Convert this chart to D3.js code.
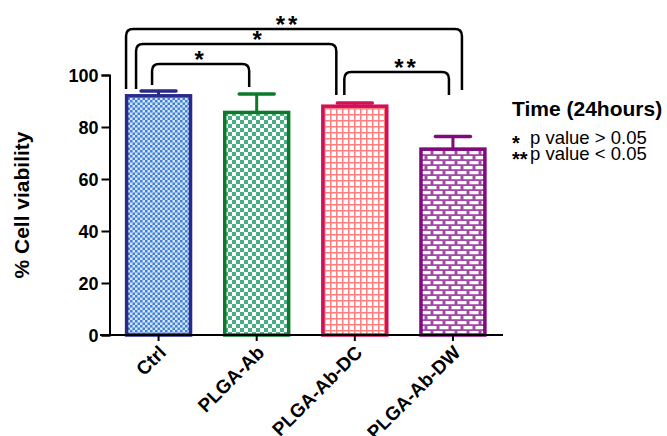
<!DOCTYPE html>
<html>
<head>
<meta charset="utf-8">
<script src="https://cdn.jsdelivr.net/npm/d3@7"></script>
<style>
  body { margin: 0; background: #fff; }
  text { font-family: "Liberation Sans", Arial, sans-serif; }
</style>
</head>
<body>
<svg id="chart" width="667" height="436"></svg>
<script>
// data
var groups = ["Ctrl", "PLGA-Ab", "PLGA-Ab-DC", "PLGA-Ab-DW"];
var viability = [92, 85.6, 88, 71.5];
var errUp = [1.8, 7.1, 1.2, 4.8];
var yTicks = [0, 20, 40, 60, 80, 100];
// significance brackets: from bar, to bar, top level and leg ends (in % units)
var sigFrom = [0, 0, 0, 2];
var sigTo = [1, 2, 3, 3];
var sigTop = [104.2, 111.9, 117.7, 101.2];
var sigLegA = [96.2, 94.6, 94.6, 92.3];
var sigLegB = [95.4, 92.3, 94.2, 92.3];
var sigLabel = ["*", "*", "**", "**"];
var legendTitle = "Time (24hours)";
var legendStars = ["*", "**"];
var legendText = ["p value > 0.05", "p value < 0.05"];

var strokeCols = ["#2a2a8a", "#0b7a2b", "#d0105a", "#7f0a7c"];
var patIds = ["patCtrl", "patAb", "patDC", "patDW"];
// leg x offsets from the bar centres, label offsets
var legDx = [[-6.5, -7.5], [-22.5, -18.5], [-32.5, 9], [-10.5, -4]];
var labDx = [-1.5, 21, -6, 10];

var svg = d3.select("#chart");
var defs = svg.append("defs");

var p1 = defs.append("pattern").attr("id", "patCtrl").attr("patternUnits", "userSpaceOnUse")
	.attr("width", 5).attr("height", 5);
p1.append("rect").attr("width", 5).attr("height", 5).attr("fill", "#d6e4f7");
p1.append("rect").attr("width", 2.5).attr("height", 2.5).attr("fill", "#3f80d8");
p1.append("rect").attr("x", 2.5).attr("y", 2.5).attr("width", 2.5).attr("height", 2.5).attr("fill", "#3f80d8");

var p2 = defs.append("pattern").attr("id", "patAb").attr("patternUnits", "userSpaceOnUse")
	.attr("width", 8).attr("height", 8);
p2.append("rect").attr("width", 8).attr("height", 8).attr("fill", "#fff");
p2.append("rect").attr("width", 4).attr("height", 4).attr("fill", "#4aae84");
p2.append("rect").attr("x", 4).attr("y", 4).attr("width", 4).attr("height", 4).attr("fill", "#4aae84");

var p3 = defs.append("pattern").attr("id", "patDC").attr("patternUnits", "userSpaceOnUse")
	.attr("width", 6).attr("height", 6);
p3.append("rect").attr("width", 6).attr("height", 6).attr("fill", "#fff");
p3.append("rect").attr("width", 1.5).attr("height", 6).attr("fill", "#ff7d7d");
p3.append("rect").attr("width", 6).attr("height", 1.5).attr("fill", "#ff7d7d");

var p4 = defs.append("pattern").attr("id", "patDW").attr("patternUnits", "userSpaceOnUse")
	.attr("width", 12).attr("height", 10);
p4.append("rect").attr("width", 12).attr("height", 10).attr("fill", "#a24aa6");
p4.append("rect").attr("x", 1.5).attr("y", 1).attr("width", 9).attr("height", 3.2).attr("fill", "#fff");
p4.append("rect").attr("x", -4.5).attr("y", 6).attr("width", 9).attr("height", 3.2).attr("fill", "#fff");
p4.append("rect").attr("x", 7.5).attr("y", 6).attr("width", 9).attr("height", 3.2).attr("fill", "#fff");

var x = d3.scaleBand().domain(groups).range([109.5, 502]).paddingInner(0.318).paddingOuter(0.159);
var y = d3.scaleLinear().domain([0, 100]).range([335, 75]);

// y axis
var yAxis = svg.append("g")
	.attr("transform", "translate(109.5,0)")
	.call(d3.axisLeft(y).tickValues(yTicks).tickSize(8).tickSizeOuter(8).tickPadding(3));
yAxis.selectAll("path, line").attr("stroke", "#000").attr("stroke-width", 2);
yAxis.selectAll("text").style("font-size", "18px").style("font-weight", "bold").attr("fill", "#000")
	.attr("dy", "0.36em");

// bars
var data = groups.map(function(g, i) { return {name: g, v: viability[i], e: errUp[i], i: i}; });

svg.selectAll(".err").data(data).enter().append("line")
	.attr("class", "err")
	.attr("x1", d => x(d.name) + x.bandwidth() / 2)
	.attr("x2", d => x(d.name) + x.bandwidth() / 2)
	.attr("y1", d => y(d.v))
	.attr("y2", d => y(d.v + d.e))
	.attr("stroke", d => strokeCols[d.i]).attr("stroke-width", 3);

svg.selectAll(".cap").data(data).enter().append("line")
	.attr("class", "cap")
	.attr("x1", d => x(d.name) + x.bandwidth() / 2 - 17.5)
	.attr("x2", d => x(d.name) + x.bandwidth() / 2 + 17.5)
	.attr("y1", d => y(d.v + d.e))
	.attr("y2", d => y(d.v + d.e))
	.attr("stroke", d => strokeCols[d.i]).attr("stroke-width", 3.5)
	.attr("stroke-linecap", "round");

svg.selectAll(".bar").data(data).enter().append("rect")
	.attr("class", "bar")
	.attr("x", d => x(d.name) + 1.5)
	.attr("y", d => y(d.v))
	.attr("width", x.bandwidth() - 3)
	.attr("height", d => y(0) - y(d.v))
	.attr("fill", d => "url(#" + patIds[d.i] + ")")
	.attr("stroke", d => strokeCols[d.i])
	.attr("stroke-width", 3.5);

// x axis
var xAxis = svg.append("g")
	.attr("transform", "translate(0,335)")
	.call(d3.axisBottom(x).tickSize(6).tickSizeOuter(0));
xAxis.select(".domain").attr("stroke", "#000").attr("stroke-width", 2)
	.attr("d", "M100,0H503");
xAxis.selectAll("line").attr("stroke", "#000").attr("stroke-width", 2);
xAxis.selectAll("text")
	.attr("x", 0).attr("y", 0).attr("dy", "0.35em")
	.attr("text-anchor", "end")
	.attr("transform", "translate(4,14) rotate(-45)")
	.style("font-size", "19px").style("font-weight", "bold").attr("fill", "#000");

// y label
svg.append("text")
	.attr("transform", "translate(29,205) rotate(-90)")
	.attr("text-anchor", "middle")
	.style("font-size", "21px").style("font-weight", "bold")
	.text("% Cell viability");

// significance brackets
var r = 7;
for (var k = 0; k < sigFrom.length; k++) {
	var xa = x(groups[sigFrom[k]]) + x.bandwidth() / 2 + legDx[k][0];
	var xb = x(groups[sigTo[k]]) + x.bandwidth() / 2 + legDx[k][1];
	var yt = y(sigTop[k]);
	var ya = y(sigLegA[k]);
	var yb = y(sigLegB[k]);
	svg.append("path")
		.attr("d", "M" + xa + "," + ya + "L" + xa + "," + (yt + r) +
			"Q" + xa + "," + yt + " " + (xa + r) + "," + yt +
			"L" + (xb - r) + "," + yt +
			"Q" + xb + "," + yt + " " + xb + "," + (yt + r) +
			"L" + xb + "," + yb)
		.attr("fill", "none").attr("stroke", "#000").attr("stroke-width", 2.5);
	svg.append("text")
		.attr("x", (xa + xb) / 2 + labDx[k])
		.attr("y", yt + 4)
		.attr("text-anchor", "middle")
		.style("font-size", "24px").style("font-weight", "bold")
		.style("letter-spacing", sigLabel[k].length > 1 ? "3px" : "0px")
		.text(sigLabel[k]);
}

// legend
svg.append("text")
	.attr("x", 512).attr("y", 116)
	.style("font-size", "21px").style("font-weight", "bold")
	.text(legendTitle);
for (var m = 0; m < legendText.length; m++) {
	svg.append("text")
		.attr("x", 512).attr("y", 150 + m * 16)
		.style("font-size", "20px").style("font-weight", "bold")
		.text(legendStars[m]);
	svg.append("text")
		.attr("x", 530).attr("y", 144 + m * 16)
		.style("font-size", "18.5px")
		.text(legendText[m]);
}
</script>
</body>
</html>
